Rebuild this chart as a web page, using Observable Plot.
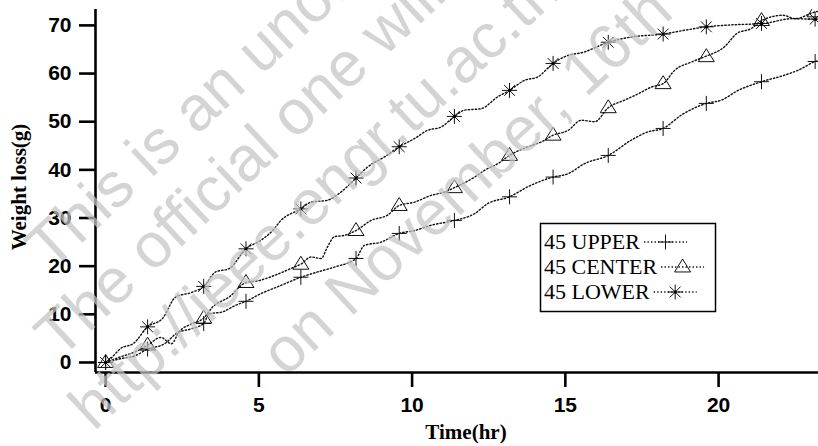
<!DOCTYPE html>
<html><head><meta charset="utf-8">
<script src="https://cdn.jsdelivr.net/npm/d3@7"></script>
<script src="https://cdn.jsdelivr.net/npm/@observablehq/plot@0.6"></script>
<style>html,body{margin:0;padding:0;background:#fff;overflow:hidden;}</style>
</head><body><div id="chart"></div>
<script>
// ---------- data ----------
const seriesNames = ["45 UPPER", "45 CENTER", "45 LOWER"];

const upperTime = [0,0.5,1.0,1.37,1.9,2.35,2.8,3.2,3.38,3.81,4.25,4.58,5.07,5.72,6.37,6.92,7.46,8.17,8.44,8.99,9.58,10.08,10.62,11.38,12.04,12.47,13.18,13.78,14.6,15.09,15.63,16.4,17.16,17.7,18.19,18.79,19.6,20.1,20.64,21.4,22.17,22.6,23.15,23.3];
const upperLoss = [0,0.8,1.5,2.8,3.8,6.2,7.0,8.1,10.1,10.5,11.9,12.7,14.3,16.0,17.7,18.8,19.8,21.6,24.3,25.0,26.8,27.4,28.5,29.5,30.9,33.0,34.4,36.5,38.5,39.2,41.3,43.0,46.2,47.9,48.6,51.4,53.8,54.5,56.5,58.3,59.7,60.7,62.5,62.8];

const centerTime = [0,0.5,1.0,1.37,1.8,2.15,2.4,2.8,3.2,3.49,4.03,4.58,5.0,5.56,6.15,6.37,6.7,7.03,7.24,7.46,7.79,8.17,8.66,9.2,9.58,10.08,10.62,11.06,11.38,12.04,12.36,12.8,13.18,13.78,14.22,14.6,15.09,15.52,15.96,16.4,16.94,17.38,17.81,18.19,18.57,19.12,19.55,20.2,20.59,21.08,21.4,22.1,22.5,23.15,23.3];
const centerLoss = [0,1.2,2.3,3.6,5.2,3.9,6.4,8.0,9.2,11.5,13.6,16.6,17.0,18.2,19.8,20.4,21.9,21.6,24.0,26.1,26.4,27.4,29.5,30.6,32.6,33.3,34.7,35.4,36.3,38.5,39.9,41.3,43.0,44.8,45.8,47.2,48.2,50.3,50.0,52.9,54.5,55.8,57.2,57.9,60.7,62.4,63.5,65.6,68.3,69.4,71.0,72.1,71.4,72.8,73.0];

const lowerTime = [0,0.16,0.49,0.92,1.37,1.85,2.29,2.83,3.2,3.59,4.03,4.58,5.07,5.45,5.72,6.37,6.7,7.24,7.68,8.17,8.55,9.1,9.58,10.08,10.5,10.95,11.38,11.71,12.25,12.8,13.18,13.67,14.1,14.6,14.98,15.63,16.4,17.16,18.19,18.9,19.6,20.42,21.19,21.46,22.4,23.15,23.3];
const lowerLoss = [0,0.8,2.9,4.0,7.4,9.1,13.6,14.6,15.8,18.8,19.5,23.6,25.4,27.4,29.5,31.9,33.3,33.7,35.4,38.3,40.6,42.7,44.8,46.5,48.2,48.9,51.1,52.4,52.7,55.2,56.5,58.6,59.3,62.1,63.5,64.5,66.5,67.6,68.2,69.0,69.7,70.1,70.3,70.4,71.4,71.3,71.4];

const markerTime   = [0,1.37,3.2,4.58,6.37,8.17,9.58,11.38,13.18,14.6,16.4,18.19,19.6,21.4,23.15];
const upperMarker  = [0,2.8,8.1,12.7,17.7,21.6,26.8,29.5,34.4,38.5,43.0,48.6,53.8,58.3,62.5];
const centerMarker = [0,3.6,9.2,16.6,20.4,27.4,32.6,36.3,43.0,47.2,52.9,57.9,63.5,71.0,72.8];
const lowerMarker  = [0,7.4,15.8,23.6,31.9,38.3,44.8,51.1,56.5,62.1,66.5,68.2,69.7,70.4,71.3];

const xTicks = [0, 5, 10, 15, 20];
const yTicks = [0, 10, 20, 30, 40, 50, 60, 70];
const xLabel = "Time(hr)";
const yLabel = "Weight loss(g)";
const watermarkLines = ["This is an unofficial version.", "The official one will be available at", "http://ieee.engr.tu.ac.th", "on November, 16th"];

// ---------- symbols ----------
const rOf = s => Math.sqrt(s / Math.PI);
const plusSym = {draw(c, s) { const r = rOf(s); c.moveTo(-r, 0); c.lineTo(r, 0); c.moveTo(0, -r); c.lineTo(0, r); }};
const triSym  = {draw(c, s) { const r = rOf(s); c.moveTo(0, -r); c.lineTo(r, r * 0.62); c.lineTo(-r, r * 0.62); c.closePath(); }};
const starSym = {draw(c, s) { const r = rOf(s), d = r * 0.72;
  c.moveTo(-r, 0); c.lineTo(r, 0); c.moveTo(0, -r); c.lineTo(0, r);
  c.moveTo(-d, -d); c.lineTo(d, d); c.moveTo(-d, d); c.lineTo(d, -d); }};
const symbols = [plusSym, triSym, starSym];

const zip = (t, w) => t.map((v, i) => ({t: v, w: w[i]}));
const lines = [zip(upperTime, upperLoss), zip(centerTime, centerLoss), zip(lowerTime, lowerLoss)];
const markers = [zip(markerTime, upperMarker), zip(markerTime, centerMarker), zip(markerTime, lowerMarker)];

const xDomain = [-0.33, 23.26];
const yDomain = [-2.08, 73.3];
const dash = "1.4 2.1";

const marks = [];
lines.forEach(d => marks.push(Plot.line(d, {x: "t", y: "w", curve: "monotone-x", stroke: "#111", strokeWidth: 1.4, strokeDasharray: dash, clip: true})));
markers.forEach((d, i) => marks.push(Plot.dot(d, {x: "t", y: "w", symbol: symbols[i], r: i === 1 ? 8 : 7.5, stroke: "#111", strokeWidth: 1, fill: "none", clip: true})));
marks.push(Plot.dot(markers[2], {x: "t", y: "w", r: 1.6, fill: "#000", stroke: "none"}));
marks.push(Plot.ruleX([xDomain[0]], {stroke: "#000", strokeWidth: 2.6}));
marks.push(Plot.ruleY([yDomain[0]], {stroke: "#000", strokeWidth: 2.6}));
marks.push(Plot.axisY({ticks: yTicks, tickSize: 16, tickPadding: 8, fontSize: 21, fontWeight: "bold", strokeWidth: 2.6, label: null}));
marks.push(Plot.axisX({ticks: xTicks, tickSize: 15, tickPadding: 10, fontSize: 21, fontWeight: "bold", strokeWidth: 2.6, label: null}));

const chart = Plot.plot({
  width: 818, height: 446,
  marginLeft: 95, marginRight: 0, marginTop: 9, marginBottom: 74,
  x: {domain: xDomain},
  y: {domain: yDomain},
  style: {fontFamily: "'Liberation Sans', Arial, sans-serif", background: "#fff", color: "#000"},
  marks
});
document.getElementById("chart").appendChild(chart);

const svg = d3.select(chart);
const serif = "'Liberation Serif', 'Times New Roman', serif";
// axis titles
svg.append("text").attr("x", 466).attr("y", 439).attr("text-anchor", "middle")
  .attr("font-family", serif).attr("font-weight", "bold").attr("font-size", 21).text(xLabel);
svg.append("text").attr("transform", "translate(26,187) rotate(-90)").attr("text-anchor", "middle")
  .attr("font-family", serif).attr("font-weight", "bold").attr("font-size", 21).text(yLabel);

// legend
const lg = svg.append("g").attr("text-anchor", "start");
lg.append("rect").attr("x", 540.5).attr("y", 223.5).attr("width", 175).attr("height", 88)
  .attr("fill", "#fff").attr("stroke", "#000").attr("stroke-width", 1.5);
seriesNames.forEach((name, i) => {
  const base = 249 + i * 25;
  const t = lg.append("text").attr("x", 544).attr("y", base).attr("font-family", serif)
    .attr("text-anchor", "start").attr("font-size", 22).attr("fill", "#000").text(name);
  const x0 = 544 + t.node().getComputedTextLength() + 4;
  const my = base - 7;
  lg.append("line").attr("x1", x0).attr("x2", x0 + 43).attr("y1", my).attr("y2", my)
    .attr("stroke", "#111").attr("stroke-width", 1.4).attr("stroke-dasharray", dash);
  const r = i === 1 ? 8 : 7.5;
  lg.append("path").attr("transform", `translate(${x0 + 21.5},${my})`)
    .attr("d", d3.symbol(symbols[i], Math.PI * r * r)())
    .attr("fill", "none").attr("stroke", "#111").attr("stroke-width", 1);
  if (i === 2) lg.append("circle").attr("cx", x0 + 21.5).attr("cy", my).attr("r", 1.6).attr("fill", "#000");
});

// watermark (semi-transparent, drawn on top)
const wm = svg.append("g").attr("text-anchor", "start")
  .attr("font-family", "'Liberation Sans', Arial, sans-serif").attr("font-size", 63)
  .attr("fill", "#c4c4c4").attr("fill-opacity", 0.72);
const wmStart = [[51, 272], [60, 360], [94, 432], [286, 378]];
watermarkLines.forEach((s, i) => wm.append("text").attr("text-anchor", "start")
  .attr("transform", `translate(${wmStart[i][0]},${wmStart[i][1]}) rotate(-43)`).text(s));
</script>
</body></html>
